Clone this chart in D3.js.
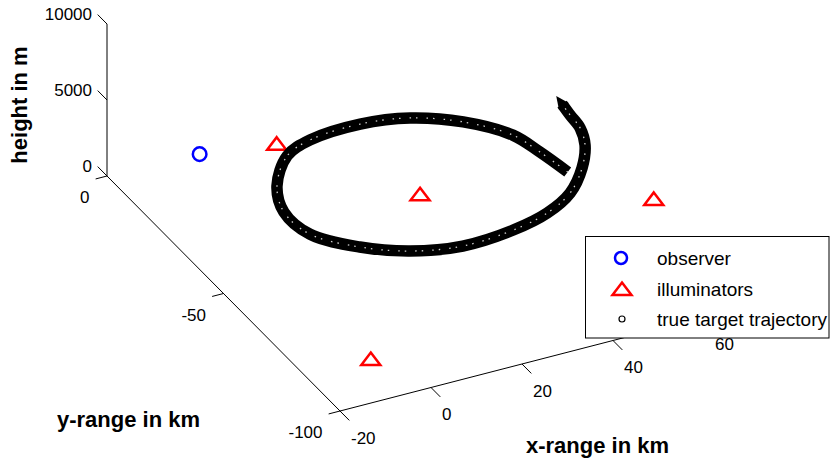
<!DOCTYPE html>
<html>
<head>
<meta charset="utf-8">
<script src="https://cdn.jsdelivr.net/npm/d3@7"></script>
<style>
body { margin: 0; background: #fff; }
svg { display: block; }
</style>
</head>
<body>
<div id="chart"></div>
<script>
// positions: x, y in km, z (height) in m
let observerX = [0];
let observerY = [-0.7];
let observerZ = [0];

let illumX = [15.3, 31.6, 71.7, -5.6];
let illumY = [-3.9, -33.6, -55.6, -85.1];
let illumZ = [0, 0, 0, 0];

let trajX = [53.4, 52.0, 50.2, 43.8, 35.2, 25.4, 13.9, 7.1, 0.1, -3.2, -2.5,
             4.0, 12.1, 22.2, 33.8, 42.7, 50.2, 56.6, 61.1, 63.2, 63.7, 64.2];
let trajY = [-54.4, -45.2, -37.1, -28.3, -22.3, -20.0, -21.0, -24.4, -33.7, -43.1, -52.9,
             -61.6, -67.4, -70.3, -69.3, -66.5, -61.7, -54.3, -46.8, -40.6, -35.3, -30.9];
let trajZ = [3000, 3000, 3000, 3000, 3000, 3000, 3000, 3000, 3000, 3000, 3000,
             3000, 3000, 3000, 3000, 3000, 3000, 3000, 3000, 3000, 3000, 3000];

let xTicks = [-20, 0, 20, 40, 60];
let yTicks = [-100, -50, 0];
let zTicks = [0, 5000, 10000];

let legendLabels = ["observer", "illuminators", "true target trajectory"];

let width = 830, height = 464;

let svg = d3.select("#chart")
  .append("svg")
  .attr("width", width)
  .attr("height", height);

// each axis normalised to 0..1, then pushed along its screen direction
let xS = d3.scaleLinear().domain([-20, 80]).range([0, 1]);
let yS = d3.scaleLinear().domain([-100, 0]).range([0, 1]);
let zS = d3.scaleLinear().domain([0, 10000]).range([0, 1]);

let corner = [340, 411];
let ex = [455, -117.5], ey = [-233, -235], ez = [0, -152];

function proj(x, y, z) {
  let a = xS(x), b = yS(y), c = zS(z);
  return [corner[0] + a * ex[0] + b * ey[0] + c * ez[0],
          corner[1] + a * ex[1] + b * ey[1] + c * ez[1]];
}

let axisG = svg.append("g").attr("stroke", "#000").attr("stroke-width", 1).attr("fill", "none");

function seg(p, q) {
  axisG.append("line")
    .attr("x1", p[0]).attr("y1", p[1])
    .attr("x2", q[0]).attr("y2", q[1]);
}

// axis lines
seg(proj(-20, -100, 0), proj(80, -100, 0));
seg(proj(-20, 0, 0), proj(-20, -100, 0));
seg(proj(-20, 0, 0), proj(-20, 0, 10000));

// ticks
xTicks.forEach(function(t) { seg(proj(t, -100, 0), proj(t, -104, 0)); });
yTicks.forEach(function(t) { seg(proj(-20, t, 0), proj(-22.5, t, 0)); });
zTicks.forEach(function(t) { seg(proj(-20, 0, t), proj(-20, 4, t)); });

let tickFont = "'Liberation Sans', Arial, sans-serif";

svg.append("g").selectAll("text").data(xTicks).enter().append("text")
  .attr("x", function(d) { return proj(d, -100, 0)[0] + 11; })
  .attr("y", function(d) { return proj(d, -100, 0)[1] + 27; })
  .attr("dominant-baseline", "central")
  .style("font-family", tickFont).style("font-size", "17px")
  .text(function(d) { return d; });

svg.append("g").selectAll("text").data(yTicks).enter().append("text")
  .attr("x", function(d) { return proj(-20, d, 0)[0] - 17.5; })
  .attr("y", function(d) { return proj(-20, d, 0)[1] + 21.5; })
  .attr("text-anchor", "end")
  .attr("dominant-baseline", "central")
  .style("font-family", tickFont).style("font-size", "17px")
  .text(function(d) { return d; });

svg.append("g").selectAll("text").data(zTicks).enter().append("text")
  .attr("x", 92)
  .attr("y", function(d) { return proj(-20, 0, d)[1] - 10; })
  .attr("text-anchor", "end")
  .attr("dominant-baseline", "central")
  .style("font-family", tickFont).style("font-size", "17px")
  .text(function(d) { return d; });

// axis titles
let titleFont = "'Liberation Sans', Arial, sans-serif";
svg.append("text").attr("x", 128.5).attr("y", 427).attr("text-anchor", "middle")
  .style("font-family", titleFont).style("font-size", "22px").style("font-weight", "bold")
  .text("y-range in km");
svg.append("text").attr("x", 597.5).attr("y", 453).attr("text-anchor", "middle")
  .style("font-family", titleFont).style("font-size", "22px").style("font-weight", "bold")
  .text("x-range in km");
svg.append("text").attr("transform", "translate(27,105) rotate(-90)").attr("text-anchor", "middle")
  .style("font-family", titleFont).style("font-size", "22px").style("font-weight", "bold")
  .text("height in m");

let triPath = "M0,-6.5L9.5,6L-9.5,6Z";

// illuminators
let illum = illumX.map(function(x, i) { return proj(x, illumY[i], illumZ[i]); });
svg.append("g").selectAll("path").data(illum).enter().append("path")
  .attr("d", triPath)
  .attr("transform", function(d) { return "translate(" + d[0] + "," + d[1] + ")"; })
  .attr("fill", "none").attr("stroke", "#ff0000").attr("stroke-width", 2.5);

// observer
let obs = observerX.map(function(x, i) { return proj(x, observerY[i], observerZ[i]); });
svg.append("g").selectAll("circle").data(obs).enter().append("circle")
  .attr("cx", function(d) { return d[0]; })
  .attr("cy", function(d) { return d[1]; })
  .attr("r", 6.8)
  .attr("fill", "none").attr("stroke", "#0000ff").attr("stroke-width", 2.5);

// trajectory
let traj = trajX.map(function(x, i) { return proj(x, trajY[i], trajZ[i]); });
let line = d3.line().curve(d3.curveCatmullRom.alpha(0.5));

svg.append("path").attr("d", line(traj))
  .attr("fill", "none").attr("stroke", "#000").attr("stroke-width", 11.5);
svg.append("path").attr("d", line(traj))
  .attr("fill", "none").attr("stroke", "#fff").attr("stroke-width", 1.3)
  .attr("stroke-dasharray", "1.5 9 1.5 5").attr("opacity", 0.8);

// arrow head at the end
let p1 = traj[traj.length - 2], p2 = traj[traj.length - 1];
let dx = p2[0] - p1[0], dy = p2[1] - p1[1];
let len = Math.sqrt(dx * dx + dy * dy);
dx /= len; dy /= len;
let tip = [p2[0] + dx * 10, p2[1] + dy * 10];
let bl = [p2[0] - dx * 3 - dy * 6, p2[1] - dy * 3 + dx * 6];
let br = [p2[0] - dx * 3 + dy * 6, p2[1] - dy * 3 - dx * 6];
svg.append("path").attr("d", "M" + tip + "L" + bl + "L" + br + "Z").attr("fill", "#000");

// legend
let lg = svg.append("g");
lg.append("rect").attr("x", 585.5).attr("y", 236.5).attr("width", 243.5).attr("height", 101.5)
  .attr("fill", "#fff").attr("stroke", "#000").attr("stroke-width", 1);

let legendY = [258, 289, 319];
lg.append("circle").attr("cx", 621).attr("cy", legendY[0]).attr("r", 6)
  .attr("fill", "none").attr("stroke", "#0000ff").attr("stroke-width", 2.5);
lg.append("path").attr("d", triPath).attr("transform", "translate(622," + legendY[1] + ")")
  .attr("fill", "none").attr("stroke", "#ff0000").attr("stroke-width", 2.5);
lg.append("circle").attr("cx", 622).attr("cy", legendY[2]).attr("r", 3)
  .attr("fill", "none").attr("stroke", "#000").attr("stroke-width", 1.2);

lg.selectAll("text").data(legendLabels).enter().append("text")
  .attr("x", 657)
  .attr("y", function(d, i) { return legendY[i] + 7; })
  .style("font-family", tickFont).style("font-size", "19px")
  .text(function(d) { return d; });
</script>
</body>
</html>
